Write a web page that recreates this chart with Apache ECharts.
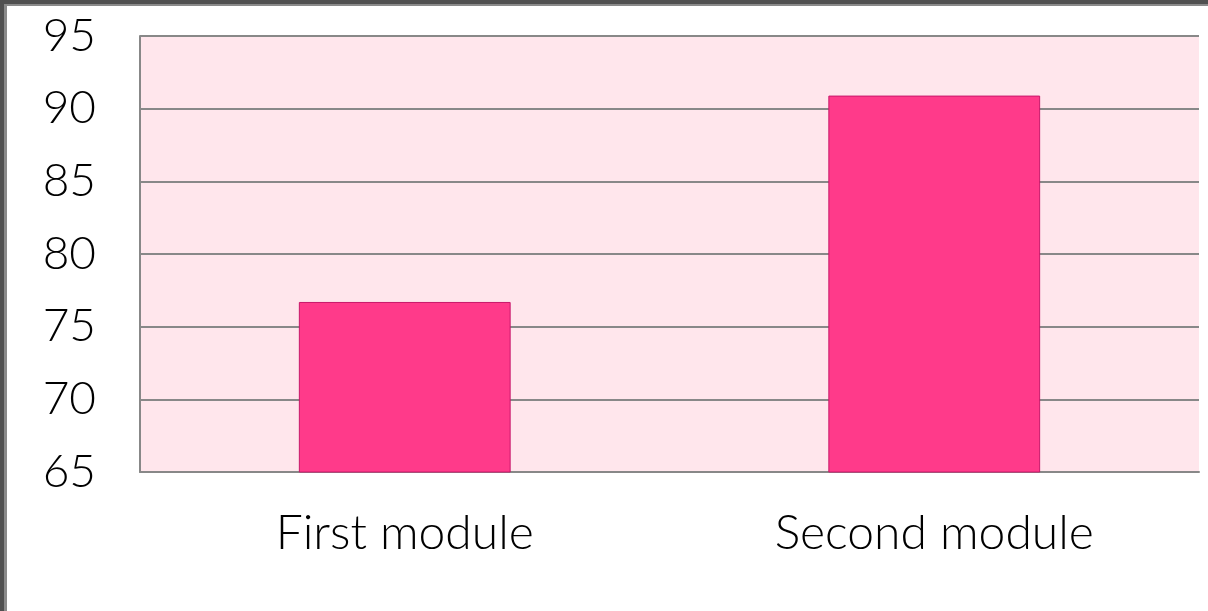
<!DOCTYPE html>
<html><head><meta charset="utf-8">
<script src="https://cdn.jsdelivr.net/npm/echarts@6/dist/echarts.min.js"></script>
<style>html,body{margin:0;padding:0;background:#fff;}#c{width:1208px;height:611px;}</style>
</head><body><div id="c"></div>
<script>
const categories = ['First module', 'Second module'];
const scores = [76.7, 90.9];
const yTicks = { min: 65, max: 95, interval: 5 };

const chart = echarts.init(document.getElementById('c'));
chart.setOption({
  animation: false,
  backgroundColor: '#ffffff',
  grid: { left: 140, right: 9, top: 36, bottom: 139, show: true, backgroundColor: '#FFE6EC', borderWidth: 0 },
  graphic: [
    { type: 'rect', shape: { x: 0, y: 0, width: 1208, height: 4 }, style: { fill: '#505050' }, z: 100 },
    { type: 'rect', shape: { x: 4, y: 4, width: 1204, height: 2 }, style: { fill: '#8a8a8a' }, z: 100 },
    { type: 'rect', shape: { x: 0, y: 0, width: 4, height: 611 }, style: { fill: '#505050' }, z: 100 },
    { type: 'rect', shape: { x: 4, y: 4, width: 3, height: 607 }, style: { fill: '#8a8a8a' }, z: 100 }
  ],
  xAxis: {
    type: 'category',
    data: categories,
    axisLine: { show: true, lineStyle: { color: '#888888', width: 2 } },
    axisTick: { show: false },
    axisLabel: { color: '#000', fontFamily: 'Lato', fontWeight: 300, fontSize: 48, margin: 38 }
  },
  yAxis: {
    type: 'value',
    min: yTicks.min, max: yTicks.max, interval: yTicks.interval,
    axisLine: { show: true, lineStyle: { color: '#888888', width: 2 } },
    axisTick: { show: false },
    splitLine: { show: true, lineStyle: { color: '#888888', width: 2 } },
    axisLabel: { color: '#000', fontFamily: 'Lato', fontWeight: 300, fontSize: 46, margin: 44 }
  },
  series: [{
    type: 'bar',
    data: scores,
    barWidth: '40%',
    itemStyle: { color: '#FF3A8A', borderColor: '#C8186A', borderWidth: 1 }
  }]
});
</script></body></html>
